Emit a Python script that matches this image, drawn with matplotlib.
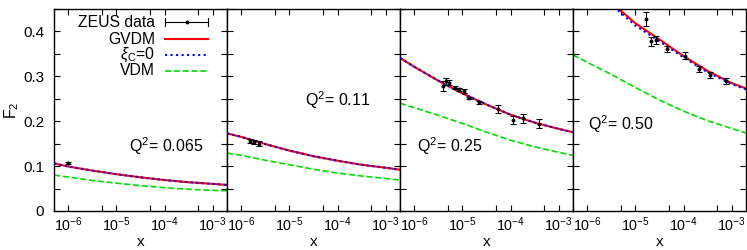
import numpy as np
import matplotlib
matplotlib.use("Agg")
import matplotlib.pyplot as plt
from matplotlib.ticker import LogLocator, MultipleLocator, FuncFormatter

plt.rcParams['font.family'] = ['Liberation Sans', 'DejaVu Sans']
plt.rcParams['mathtext.fontset'] = 'custom'
plt.rcParams['mathtext.rm'] = 'Liberation Sans'
plt.rcParams['mathtext.it'] = 'Liberation Sans:italic'
plt.rcParams['mathtext.sf'] = 'Liberation Sans'

# Q^2 of the four panels
q2_labels = ["0.065", "0.11", "0.25", "0.50"]

# curve grid, log10(x)
logx = [-6.3, -6.0, -5.5, -5.0, -4.5, -4.0, -3.5, -3.0, -2.7]

gvdm = [
    [0.106, 0.099, 0.090, 0.082, 0.075, 0.069, 0.064, 0.0605, 0.058],
    [0.173, 0.165, 0.149, 0.1345, 0.122, 0.112, 0.103, 0.0964, 0.092],
    [0.341, 0.321, 0.290, 0.262, 0.237, 0.2145, 0.197, 0.183, 0.1756],
    [None, None, None, 0.418, 0.382, 0.345, 0.312, 0.285, 0.273],
]
xi0 = [
    [0.106, 0.099, 0.090, 0.082, 0.075, 0.069, 0.064, 0.0605, 0.058],
    [0.173, 0.165, 0.149, 0.1345, 0.122, 0.112, 0.103, 0.0964, 0.092],
    [0.341, 0.321, 0.290, 0.262, 0.237, 0.2145, 0.197, 0.183, 0.1756],
    [None, None, None, 0.413, 0.378, 0.342, 0.309, 0.283, 0.271],
]
vdm = [
    [0.080, 0.0755, 0.068, 0.062, 0.0565, 0.052, 0.0485, 0.046, 0.045],
    [0.129, 0.124, 0.113, 0.103, 0.093, 0.0845, 0.078, 0.0725, 0.069],
    [0.240, 0.230, 0.213, 0.195, 0.1756, 0.1577, 0.143, 0.1308, 0.124],
    [0.3475, 0.331, 0.304, 0.275, 0.247, 0.2226, 0.201, 0.184, 0.174],
]
# start of panel-4 GVDM / xi curves just above the frame
top_start = [(-5.4, 0.455), (-5.45, 0.455)]

# ZEUS data
zeus_x = [
    [9.7e-7],
    [1.54e-6, 1.86e-6, 2.33e-6],
    [3.96e-6, 4.49e-6, 5.28e-6, 6.92e-6, 8.5e-6, 1.05e-5, 1.38e-5, 2.26e-5,
     5.37e-5, 1.10e-4, 1.80e-4, 3.98e-4],
    [1.62e-5, 2.08e-5, 2.70e-5, 4.49e-5, 1.06e-4, 2.15e-4, 3.6e-4, 7.5e-4],
]
zeus_f2 = [
    [0.107],
    [0.156, 0.154, 0.150],
    [0.279, 0.2885, 0.286, 0.275, 0.271, 0.2675, 0.252, 0.242, 0.228, 0.202,
     0.207, 0.194],
    [0.428, 0.378, 0.381, 0.361, 0.346, 0.316, 0.3027, 0.290],
]
zeus_err = [
    [0.003],
    [0.004, 0.004, 0.005],
    [0.011, 0.0075, 0.006, 0.004, 0.004, 0.004, 0.003, 0.003, 0.009, 0.009,
     0.010, 0.010],
    [0.016, 0.010, 0.009, 0.0075, 0.008, 0.007, 0.007, 0.006],
]

label_pos = [(0.434, 0.322), (0.451, 0.55), (0.098, 0.322), (0.087, 0.431)]

RED, BLUE, GREEN = "#ff0000", "#0000ff", "#00dd00"

fig = plt.figure(figsize=(7.47, 2.5), dpi=100)
x0, w = 54 / 747, 173 / 747
b, h = 39 / 250, 202 / 250
axes = []
for i in range(4):
    ax = fig.add_axes([x0 + i * w, b, w, h])
    axes.append(ax)
    for vals, col, ls, lw, start in [(gvdm[i], RED, '-', 1.5, top_start[0]),
                                     (xi0[i], BLUE, ':', 1.5, top_start[1]),
                                     (vdm[i], GREEN, '--', 1.2, None)]:
        xs = [10 ** a for a, v in zip(logx, vals) if v is not None]
        ys = [v for v in vals if v is not None]
        if i == 3 and start is not None:
            xs = [10 ** start[0]] + xs
            ys = [start[1]] + ys
        z = 3 if col == BLUE else 2
        ax.plot(xs, ys, color=col, ls=ls, lw=lw, zorder=z)
    ax.errorbar(zeus_x[i], zeus_f2[i], yerr=zeus_err[i], fmt='o', ms=1.8,
                color='black', ecolor='black', elinewidth=0.8, capsize=2,
                capthick=0.8, zorder=5)
    ax.set_xscale('log')
    ax.set_xlim(5e-7, 2e-3)
    ax.set_ylim(0, 0.45)
    ax.xaxis.set_major_locator(LogLocator(base=10, numticks=10))
    ax.xaxis.set_minor_locator(LogLocator(base=10, subs=[5], numticks=10))
    ax.yaxis.set_major_locator(MultipleLocator(0.1))
    ax.yaxis.set_minor_locator(MultipleLocator(0.05))
    ax.yaxis.set_major_formatter(FuncFormatter(lambda v, p: f"{v:g}"))
    ax.tick_params(which='both', direction='in', top=True, right=True,
                   width=0.8)
    ax.tick_params(which='major', length=4.5)
    ax.tick_params(axis='x', which='major', pad=3.5, labelsize=10.3)
    ax.tick_params(axis='y', which='major', pad=7, labelsize=11)
    ax.tick_params(which='minor', length=4)
    if i > 0:
        ax.tick_params(labelleft=False)
    for s in ax.spines.values():
        s.set_linewidth(1.0)
    ax.set_xlabel("x", fontsize=11)
    ax.xaxis.set_label_coords(0.5, -0.118)
    ax.text(label_pos[i][0], label_pos[i][1], "Q$^{2}$= " + q2_labels[i],
            transform=ax.transAxes, fontsize=11.5, ha='left', va='center')

axes[0].set_ylabel("F$_2$", fontsize=11.5)
axes[0].yaxis.set_label_coords(-0.19, 0.5)

# key in first panel
ax = axes[0]
key_y = [0.934, 0.851, 0.773, 0.694]
key_txt = ["ZEUS data", "GVDM", r"$\xi_{\rm C}$=0", "VDM"]
for yy, t in zip(key_y, key_txt):
    ax.text(0.584, yy, t, transform=ax.transAxes, fontsize=11.3,
            ha='right', va='center')
xa, xb = 0.642, 0.890
ax.plot([xa, xb], [key_y[0]] * 2, color='black', lw=0.8, transform=ax.transAxes)
for xe in (xa, xb):
    ax.plot([xe, xe], [key_y[0] - 0.02, key_y[0] + 0.02], color='black', lw=0.8,
            transform=ax.transAxes)
ax.plot([(xa + xb) / 2], [key_y[0]], 'o', ms=1.8, color='black',
        transform=ax.transAxes)
ax.plot([xa, xb], [key_y[1]] * 2, color=RED, lw=1.5, transform=ax.transAxes)
ax.plot([xa, xb], [key_y[2]] * 2, color=BLUE, ls=':', lw=1.5, transform=ax.transAxes)
ax.plot([xa, xb], [key_y[3]] * 2, color=GREEN, ls='--', lw=1.2, transform=ax.transAxes)

fig.savefig("out.png", dpi=100)
